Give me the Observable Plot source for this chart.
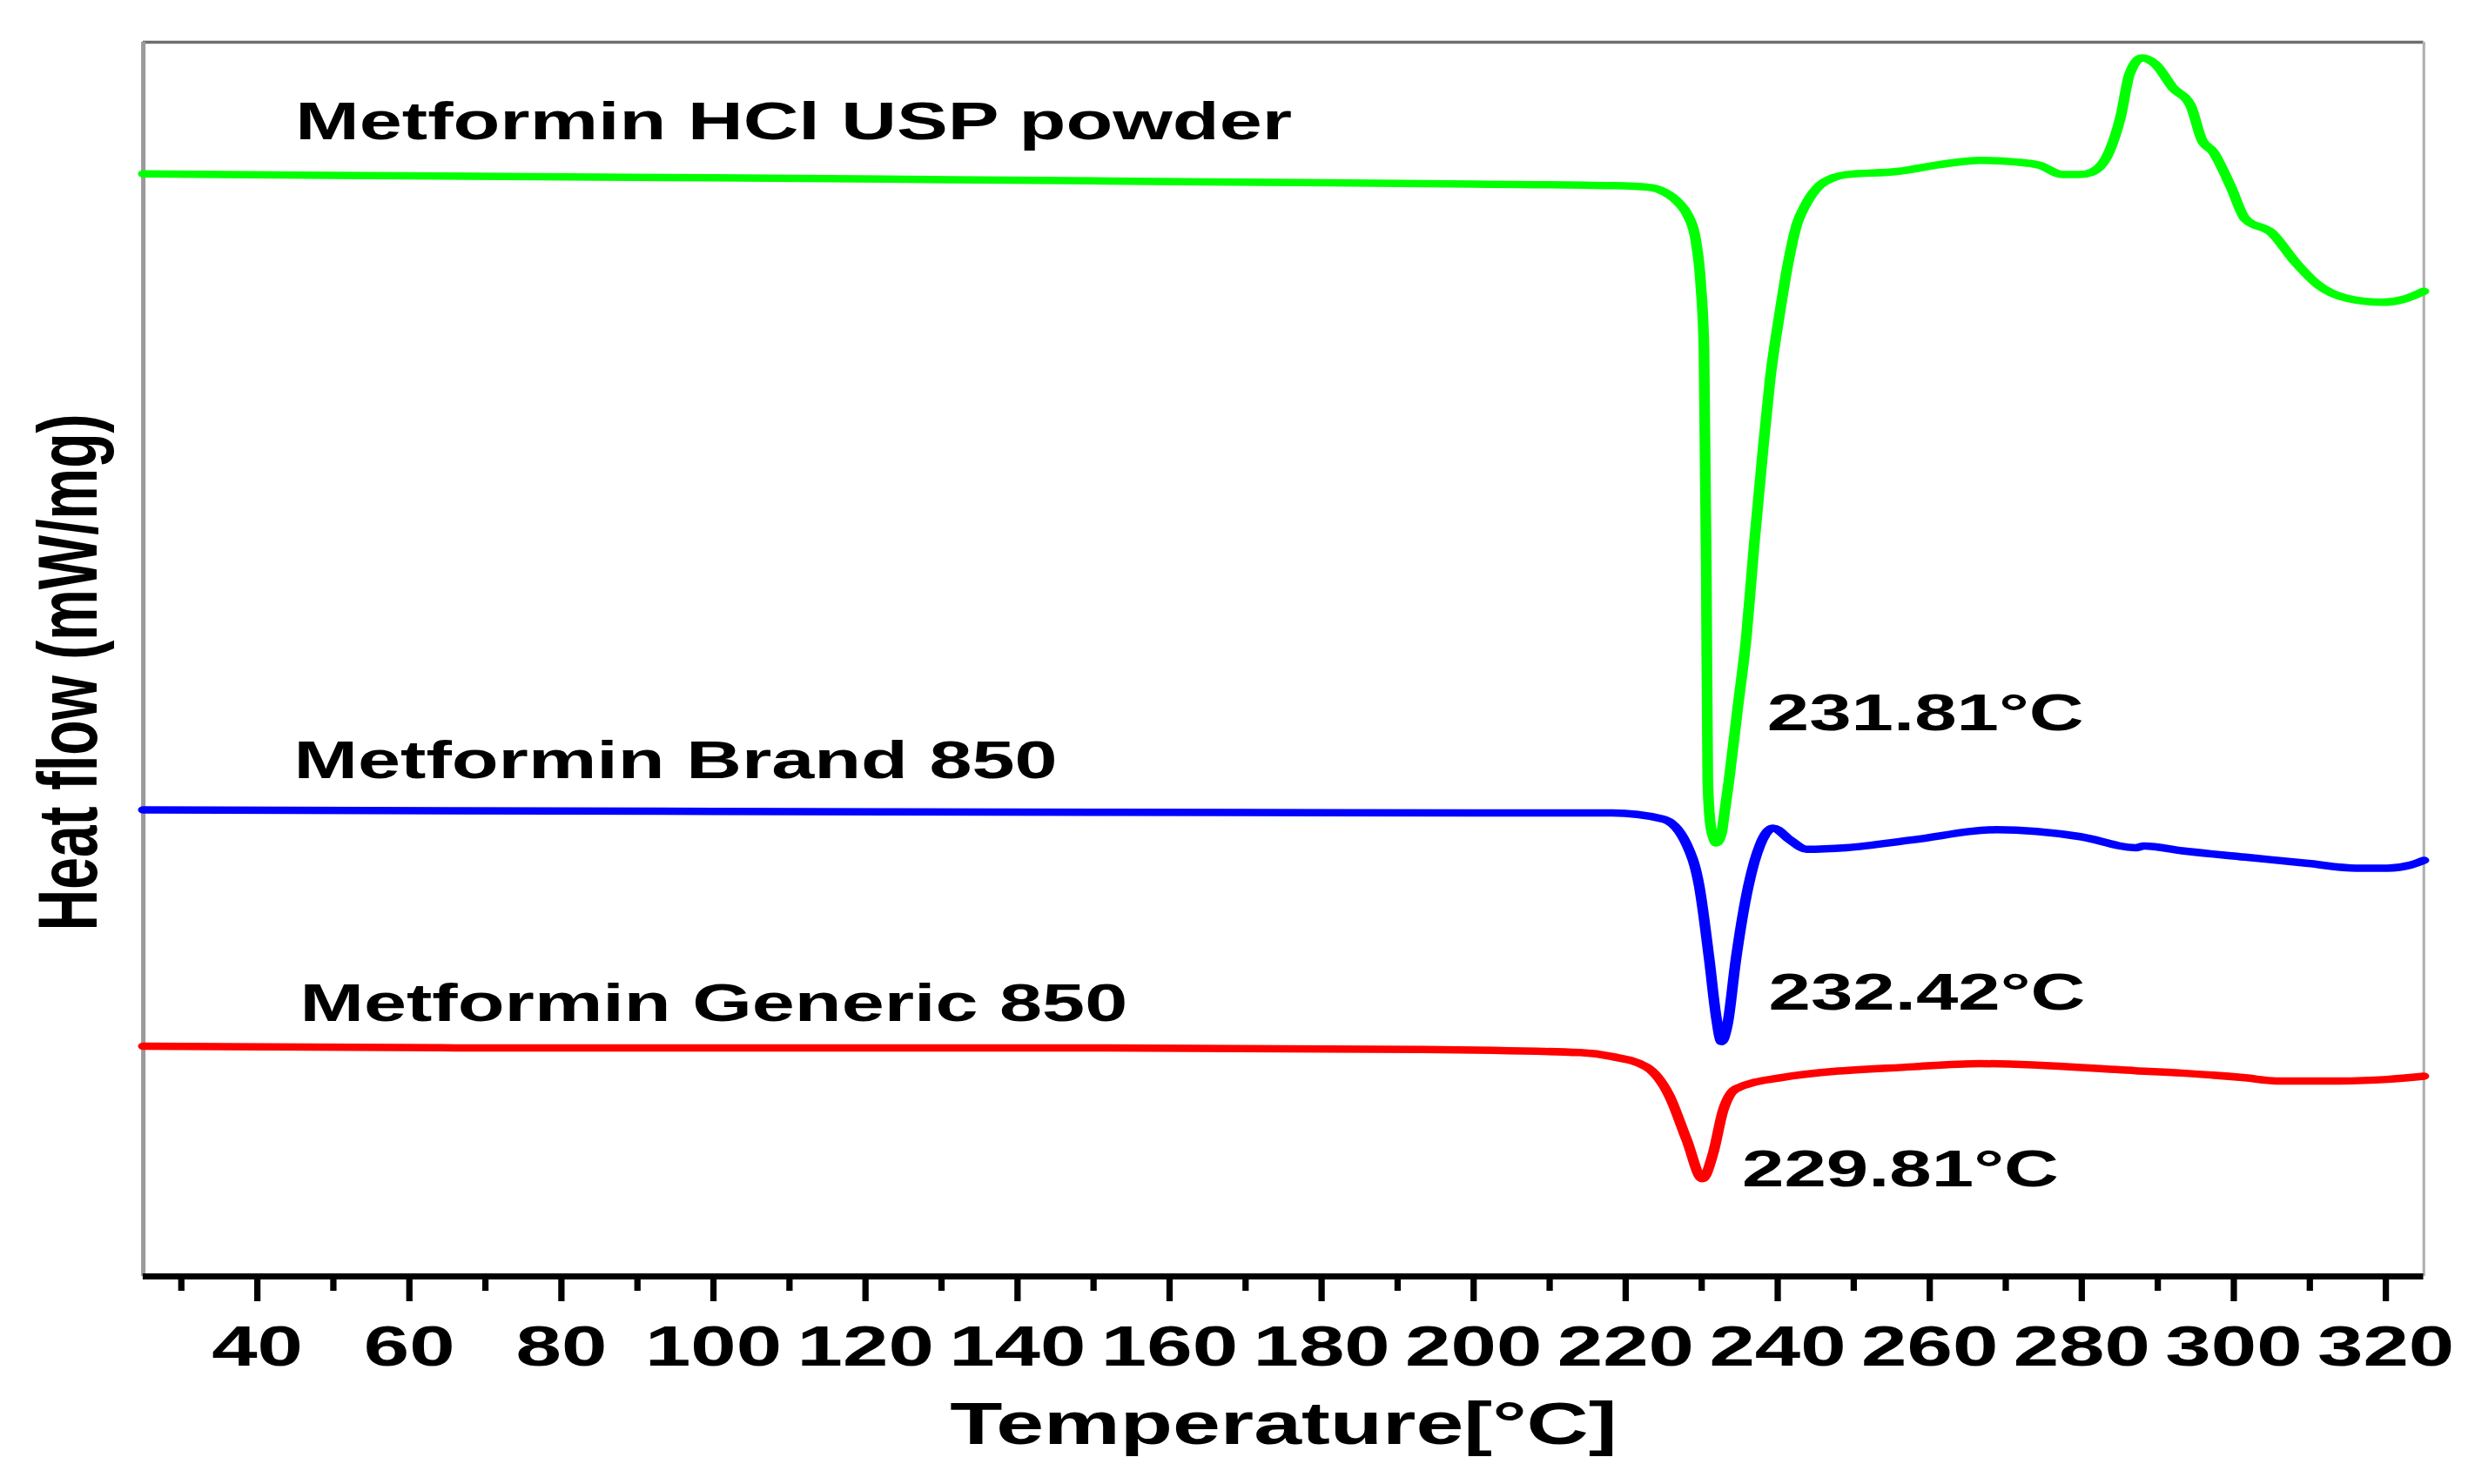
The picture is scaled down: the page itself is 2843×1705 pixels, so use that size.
<!DOCTYPE html>
<html>
<head>
<meta charset="utf-8">
<script src="https://cdn.jsdelivr.net/npm/d3@7"></script>
<script src="https://cdn.jsdelivr.net/npm/@observablehq/plot@0.6"></script>
<style>
html, body { margin: 0; padding: 0; background: #fff; overflow: hidden; }
#chart svg { display: block; }
</style>
</head>
<body>
<div id="chart"></div>
<script>
// ---- Data (heat flow in arbitrary, offset units; temperature in °C) ----
const seriesNames = ["Metformin HCl USP powder", "Metformin Brand 850", "Metformin Generic 850"];
const seriesColors = ["#00ff00", "#0000ff", "#ff0000"];

const uspT = [25, 50, 100, 150, 200, 218.2, 223.0, 225.1, 227.1, 228.2, 229.2, 229.9, 230.3, 230.6, 230.8, 231.1, 231.5, 231.9, 232.6, 233.0, 233.6, 234.7, 235.9, 236.9, 238.0, 239.0, 240.3, 241.3, 242.5, 243.8, 245.5, 247.3, 249.0, 255.7, 262.2, 266.6, 271.3, 274.4, 277.5, 279.6, 281.3, 283.6, 285.1, 286.3, 287.9, 289.7, 292.0, 294.3, 295.8, 297.3, 299.6, 301.5, 305.0, 308.1, 311.1, 314.9, 319.5, 322.4, 325];
const uspHF = [6.965, 6.955, 6.94, 6.92, 6.90, 6.89, 6.88, 6.85, 6.775, 6.70, 6.55, 6.25, 5.86, 4.49, 3.12, 2.86, 2.76, 2.72, 2.78, 2.91, 3.12, 3.56, 4.04, 4.61, 5.18, 5.66, 6.09, 6.38, 6.64, 6.78, 6.89, 6.94, 6.96, 6.98, 7.03, 7.05, 7.04, 7.02, 6.96, 6.96, 6.975, 7.104, 7.325, 7.60, 7.70, 7.66, 7.51, 7.40, 7.18, 7.104, 6.884, 6.68, 6.59, 6.405, 6.26, 6.175, 6.15, 6.17, 6.22];

const brandT = [25, 100, 150, 200, 218.2, 224.9, 228.0, 229.7, 231.0, 231.9, 232.6, 233.4, 234.5, 235.9, 237.7, 239.4, 241.6, 243.8, 249.0, 257.8, 268.8, 279.8, 287.1, 288.2, 293.2, 301.5, 309.8, 316.1, 320.2, 323.3, 325];
const brandHF = [2.93, 2.92, 2.915, 2.91, 2.91, 2.872, 2.713, 2.44, 1.98, 1.62, 1.46, 1.57, 1.98, 2.39, 2.71, 2.814, 2.74, 2.68, 2.69, 2.74, 2.804, 2.76, 2.69, 2.70, 2.67, 2.63, 2.59, 2.56, 2.56, 2.58, 2.61];

const genericT = [25, 68.3, 110.0, 151.6, 193.2, 214.0, 218.2, 222.7, 225.7, 228.0, 230.1, 231.5, 232.8, 234.5, 240.3, 257.8, 266.6, 287.1, 293.2, 301.5, 305.6, 314.0, 320.2, 325];
const genericHF = [1.43, 1.42, 1.42, 1.42, 1.41, 1.39, 1.365, 1.30, 1.12, 0.84, 0.59, 0.75, 1.02, 1.16, 1.23, 1.30, 1.32, 1.275, 1.26, 1.23, 1.21, 1.21, 1.22, 1.24];

const seriesLabelT = [45.0, 44.8, 45.6];
const seriesLabelHF = [7.29, 3.24, 1.70];

const peakLabels = ["231.81°C", "232.42°C", "229.81°C"];
const peakLabelT = [238.6, 238.8, 235.3];
const peakLabelHF = [3.54, 1.77, 0.65];

const majorTicks = d3.range(40, 321, 20);
const minorTicks = d3.range(30, 321, 20);
const xDomain = [25, 325];
const yDomain = [-0.03, 7.8];

const xTitle = "Temperature[°C]";
const yTitle = "Heat flow (mW/mg)";

// ---- Build rows ----
const allT = [uspT, brandT, genericT];
const allHF = [uspHF, brandHF, genericHF];
const seriesRows = allT.map((Ts, k) => Ts.map((t, i) => ({series: seriesNames[k], T: t, hf: allHF[k][i]})));

const W0 = 1960;      // drawing width before the horizontal stretch of the original figure
const OUT_W = 2843, OUT_H = 1705;
const font = "'Liberation Sans', Arial, sans-serif";

const marks = [
  Plot.ruleY([yDomain[1]], {stroke: "#6e6e6e", strokeWidth: 3.5}),
  Plot.ruleX([xDomain[0]], {stroke: "#9a9a9a", strokeWidth: 3.5}),
  Plot.ruleX([xDomain[1]], {stroke: "#b0b0b0", strokeWidth: 2.2}),
  ...seriesRows.map((rows, k) =>
    Plot.line(rows, {x: "T", y: "hf", stroke: seriesColors[k], strokeWidth: 8.5, curve: "monotone-x", strokeLinejoin: "round", strokeLinecap: "round"})
  ),
  Plot.ruleY([yDomain[0]], {stroke: "#000", strokeWidth: 7}),
  Plot.axisX(majorTicks, {anchor: "bottom", tickSize: 29, tickPadding: 27, strokeWidth: 5, stroke: "#000", fill: "#000",
    fontSize: 65, fontWeight: "bold", fontFamily: font, label: null}),
  Plot.axisX(minorTicks, {anchor: "bottom", tickSize: 17, strokeWidth: 5, stroke: "#000", fill: "none", label: null}),
  Plot.text(seriesNames, {x: (d, i) => seriesLabelT[i], y: (d, i) => seriesLabelHF[i], text: d => d,
    textAnchor: "start", fontSize: 60.8, fontWeight: "bold", fontFamily: font, fill: "#000"}),
  Plot.text(peakLabels, {x: (d, i) => peakLabelT[i], y: (d, i) => peakLabelHF[i], text: d => d,
    textAnchor: "start", fontSize: 60, fontWeight: "bold", fontFamily: font, fill: "#000"}),
  Plot.text([xTitle], {frameAnchor: "bottom", textAnchor: "middle", dy: 192, text: d => d, fontSize: 68, fontWeight: "bold", fontFamily: font, fill: "#000"}),
  Plot.text([yTitle], {frameAnchor: "left", textAnchor: "middle", rotate: -90, dx: -58, dy: 15, text: d => d, fontSize: 66, fontWeight: "bold", fontFamily: font, fill: "#000"})
];

const svg = Plot.plot({
  width: W0,
  height: OUT_H,
  marginLeft: 113,
  marginRight: 41,
  marginTop: 48,
  marginBottom: 239,
  x: {domain: xDomain},
  y: {domain: yDomain, axis: null},
  style: {fontFamily: font, background: "white", color: "#000", overflow: "visible"},
  marks
});

// The original figure is stretched horizontally; reproduce by stretching the viewBox.
svg.setAttribute("viewBox", `0 0 ${W0} ${OUT_H}`);
svg.setAttribute("preserveAspectRatio", "none");
svg.setAttribute("width", OUT_W);
svg.setAttribute("height", OUT_H);
svg.style.width = OUT_W + "px";
svg.style.height = OUT_H + "px";
svg.style.maxWidth = "none";
document.getElementById("chart").appendChild(svg);
</script>
</body>
</html>
